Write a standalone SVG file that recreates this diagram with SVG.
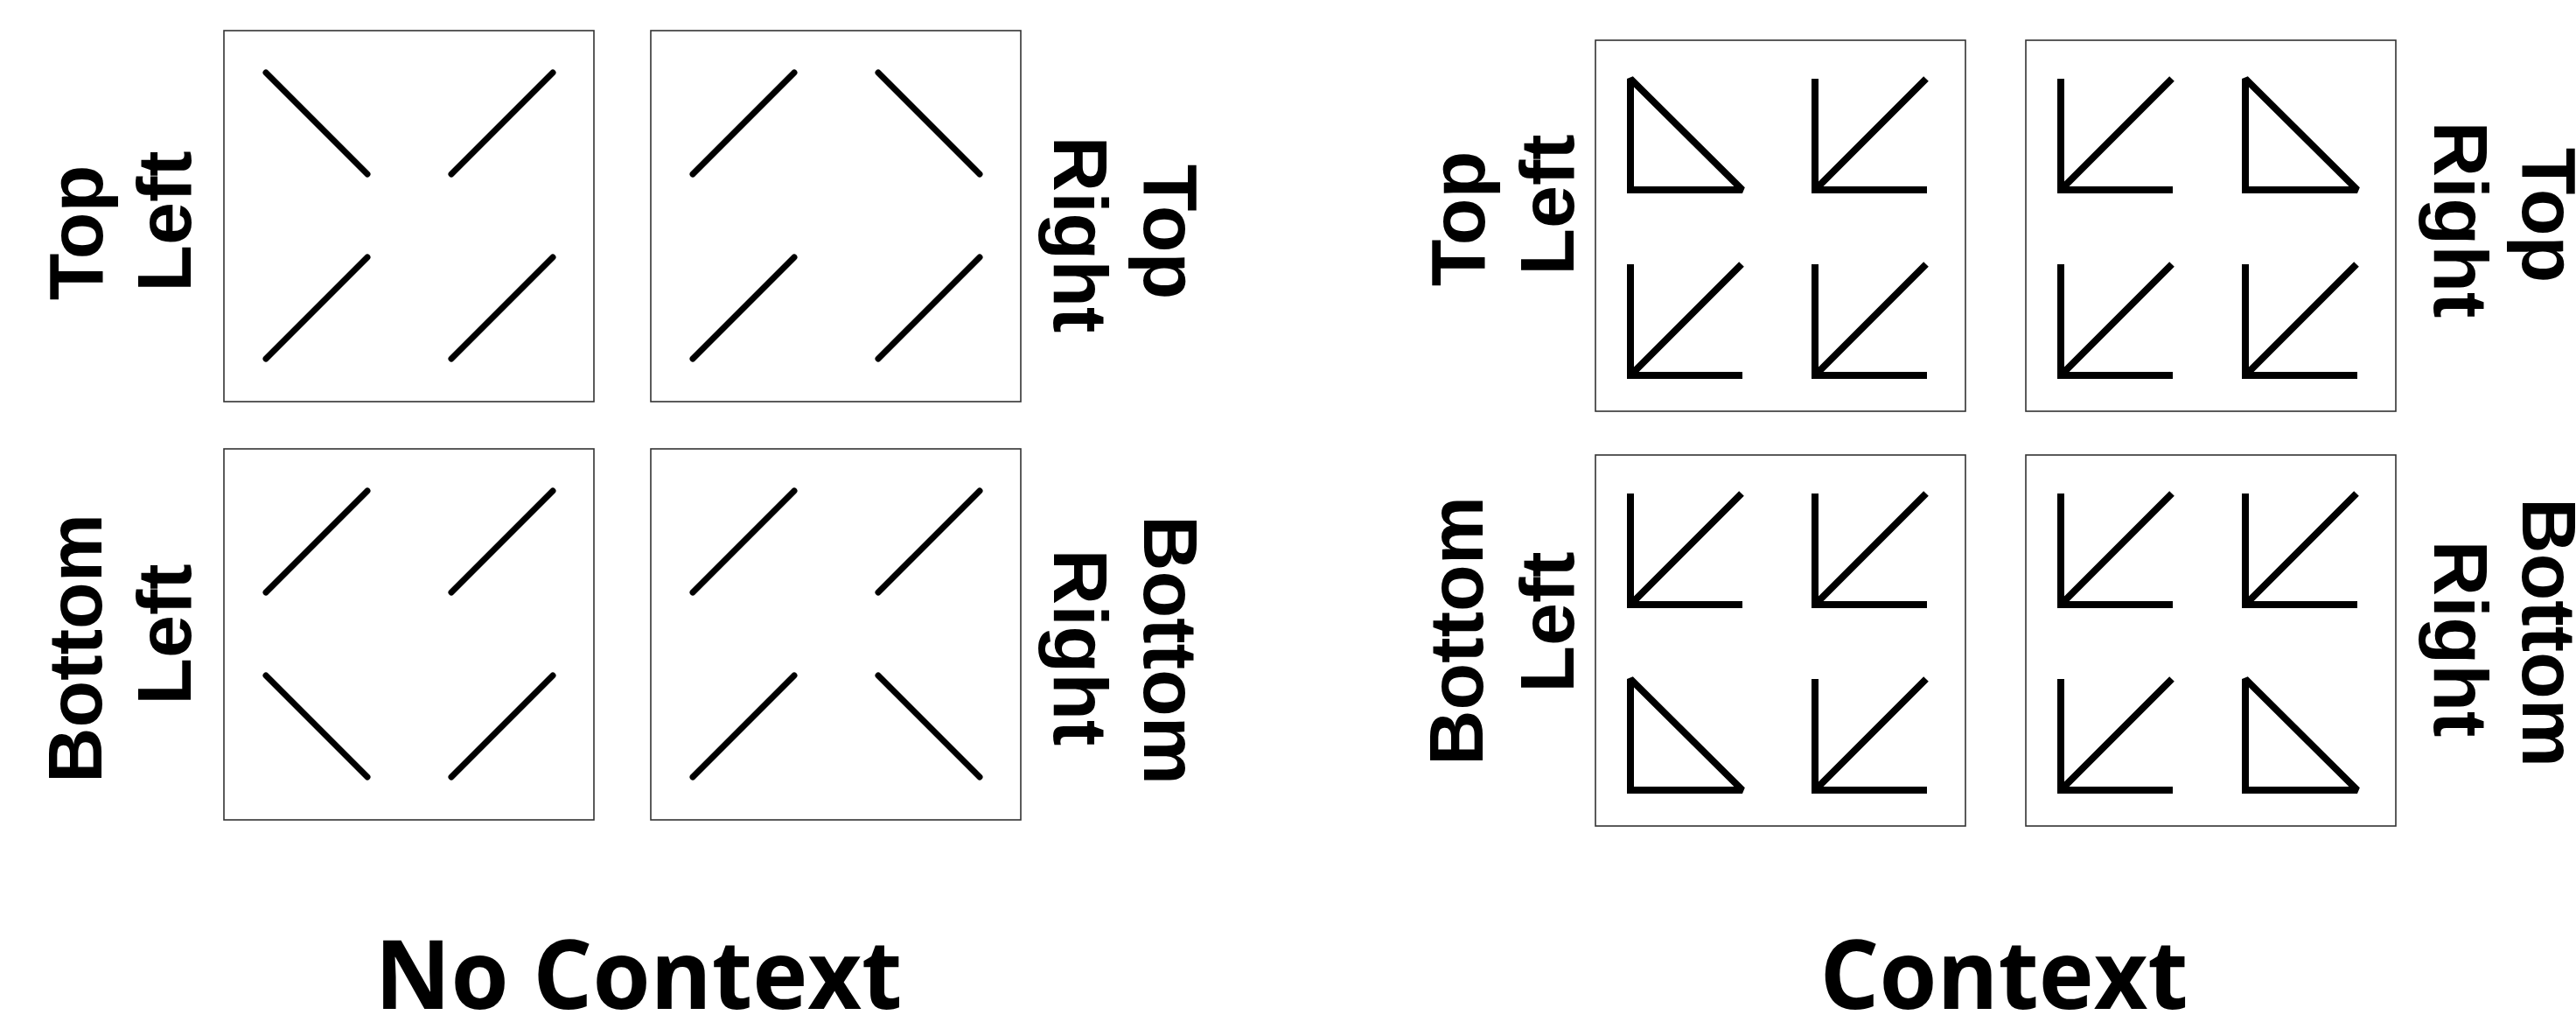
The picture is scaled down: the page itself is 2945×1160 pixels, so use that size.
<svg xmlns="http://www.w3.org/2000/svg" xmlns:xlink="http://www.w3.org/1999/xlink" width="2945" height="1160" viewBox="0 0 2945 1160">
<style>
.box{fill:#fff;stroke:#333;stroke-width:1.6}
.nc{stroke:#000;stroke-width:7;stroke-linecap:round;fill:none}
.cx{stroke:#000;stroke-width:8;stroke-linecap:butt;stroke-linejoin:miter;stroke-miterlimit:2;fill:none}
.lbl{font-family:"Liberation Sans",Arial,sans-serif;font-weight:700;font-size:88px;text-anchor:middle;fill:#000}
.ttl{font-family:"Open Sans","Noto Sans",sans-serif;font-weight:700;font-size:110px;text-anchor:middle;fill:#000}
</style>
<defs>
<g id="ncF"><line class="nc" x1="0" y1="116" x2="116" y2="0"/></g>
<g id="ncB"><line class="nc" x1="0" y1="0" x2="116" y2="116"/></g>
<g id="cxL"><path class="cx" d="M0,0 V127 H128 M0,127 L127,0"/></g>
<g id="cxT"><path class="cx" d="M0,0 L0,127 L128,127 Z"/></g>
</defs>
<rect width="2945" height="1160" fill="#fff"/>

<g id="nc-top-left">
<rect class="box" x="256" y="35" width="423" height="424"/>
<use xlink:href="#ncB" x="304" y="83"/>
<use xlink:href="#ncF" x="516" y="83"/>
<use xlink:href="#ncF" x="304" y="294"/>
<use xlink:href="#ncF" x="516" y="294"/>
<text class="lbl" transform="translate(117,266) rotate(-90)">Top</text>
<text class="lbl" transform="translate(218,253) rotate(-90)">Left</text>
</g>

<g id="nc-top-right">
<rect class="box" x="744" y="35" width="423" height="424"/>
<use xlink:href="#ncF" x="792" y="83"/>
<use xlink:href="#ncB" x="1004" y="83"/>
<use xlink:href="#ncF" x="792" y="294"/>
<use xlink:href="#ncF" x="1004" y="294"/>
<text class="lbl" transform="translate(1308,265) rotate(90)">Top</text>
<text class="lbl" transform="translate(1205,268) rotate(90)">Right</text>
</g>

<g id="nc-bottom-left">
<rect class="box" x="256" y="513" width="423" height="424"/>
<use xlink:href="#ncF" x="304" y="561"/>
<use xlink:href="#ncF" x="516" y="561"/>
<use xlink:href="#ncB" x="304" y="772"/>
<use xlink:href="#ncF" x="516" y="772"/>
<text class="lbl" transform="translate(116,741) rotate(-90)">Bottom</text>
<text class="lbl" transform="translate(218,725) rotate(-90)">Left</text>
</g>

<g id="nc-bottom-right">
<rect class="box" x="744" y="513" width="423" height="424"/>
<use xlink:href="#ncF" x="792" y="561"/>
<use xlink:href="#ncF" x="1004" y="561"/>
<use xlink:href="#ncF" x="792" y="772"/>
<use xlink:href="#ncB" x="1004" y="772"/>
<text class="lbl" transform="translate(1308,743) rotate(90)">Bottom</text>
<text class="lbl" transform="translate(1205,740) rotate(90)">Right</text>
</g>

<g id="cx-top-left">
<rect class="box" x="1824" y="46" width="423" height="424"/>
<use xlink:href="#cxT" x="1864" y="90"/>
<use xlink:href="#cxL" x="2075" y="90"/>
<use xlink:href="#cxL" x="1864" y="302"/>
<use xlink:href="#cxL" x="2075" y="302"/>
<text class="lbl" transform="translate(1697,250) rotate(-90)">Top</text>
<text class="lbl" transform="translate(1799,234) rotate(-90)">Left</text>
</g>

<g id="cx-top-right">
<rect class="box" x="2316" y="46" width="423" height="424"/>
<use xlink:href="#cxL" x="2356" y="90"/>
<use xlink:href="#cxT" x="2567" y="90"/>
<use xlink:href="#cxL" x="2356" y="302"/>
<use xlink:href="#cxL" x="2567" y="302"/>
<text class="lbl" transform="translate(2884,246) rotate(90)">Top</text>
<text class="lbl" transform="translate(2783,251) rotate(90)">Right</text>
</g>

<g id="cx-bottom-left">
<rect class="box" x="1824" y="520" width="423" height="424"/>
<use xlink:href="#cxL" x="1864" y="564"/>
<use xlink:href="#cxL" x="2075" y="564"/>
<use xlink:href="#cxT" x="1864" y="776"/>
<use xlink:href="#cxL" x="2075" y="776"/>
<text class="lbl" transform="translate(1695,721) rotate(-90)">Bottom</text>
<text class="lbl" transform="translate(1799,711) rotate(-90)">Left</text>
</g>

<g id="cx-bottom-right">
<rect class="box" x="2316" y="520" width="423" height="424"/>
<use xlink:href="#cxL" x="2356" y="564"/>
<use xlink:href="#cxL" x="2567" y="564"/>
<use xlink:href="#cxL" x="2356" y="776"/>
<use xlink:href="#cxT" x="2567" y="776"/>
<text class="lbl" transform="translate(2884,723) rotate(90)">Bottom</text>
<text class="lbl" transform="translate(2783,730) rotate(90)">Right</text>
</g>

<g id="titles">
<text class="ttl" x="730" y="1153" textLength="603" lengthAdjust="spacingAndGlyphs">No Context</text>
<text class="ttl" x="2291" y="1153" textLength="421" lengthAdjust="spacingAndGlyphs">Context</text>
</g>
<g id="connectors"></g>
</svg>
